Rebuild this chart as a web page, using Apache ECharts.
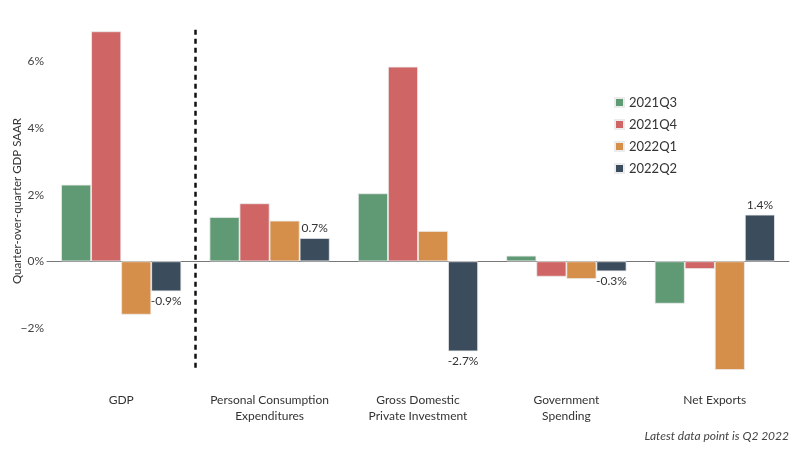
<!DOCTYPE html>
<html><head><meta charset="utf-8">
<script src="https://cdn.jsdelivr.net/npm/echarts@6/dist/echarts.min.js"></script>
<style>html,body{margin:0;padding:0;background:#fff}#c{width:800px;height:457px}</style>
</head><body><div id="c"></div>
<script>
const categories = ['GDP', 'Personal Consumption\nExpenditures', 'Gross Domestic\nPrivate Investment', 'Government\nSpending', 'Net Exports'];
const q2021Q3 = [2.3, 1.33, 2.04, 0.17, -1.27];
const q2021Q4 = [6.9, 1.74, 5.84, -0.46, -0.23];
const q2022Q1 = [-1.6, 1.22, 0.91, -0.53, -3.26];
const q2022Q2 = [-0.9, 0.7, -2.7, -0.3, 1.4];
const seriesNames = ['2021Q3', '2021Q4', '2022Q1', '2022Q2'];
const colors = ['#5f9a74', '#d06565', '#d68f4a', '#3b4c5d'];
const yTicks = [-2, 0, 2, 4, 6];
const footnote = 'Latest data point is Q2 2022';

const FONT = 'Lato';
const chart = echarts.init(document.getElementById('c'));
const all = [q2021Q3, q2021Q4, q2022Q1, q2022Q2];
const series = all.map((arr, i) => ({
  name: seriesNames[i],
  type: 'bar',
  barGap: '0%',
  barCategoryGap: '19%',
  itemStyle: { color: colors[i], borderColor: '#ececec', borderWidth: 0.8 },
  data: arr.map(v => i === 3 ? {
    value: v,
    label: {
      show: true,
      position: v >= 0 ? 'top' : 'bottom',
      formatter: p => p.value.toFixed(1) + '%',
      color: '#333', fontSize: 12, fontFamily: FONT, distance: 4
    }
  } : v)
}));
series.push({
  type: 'line',
  xAxisIndex: 1,
  data: [],
  silent: true,
  markLine: {
    symbol: 'none',
    silent: true,
    label: { show: false },
    lineStyle: { color: '#111', type: [5, 4], width: 2.5 },
    data: [[{ coord: [1, 6.95] }, { coord: [1, -3.3] }]]
  }
});

chart.setOption({
  animation: false,
  textStyle: { fontFamily: FONT },
  grid: { left: 47, right: 11, top: 28, bottom: 79, containLabel: false, outerBoundsMode: 'none' },
  legend: {
    orient: 'vertical', left: 609, top: 91,
    icon: 'rect', itemWidth: 9, itemHeight: 9, itemGap: 9,
    data: seriesNames,
    textStyle: { color: '#333', fontSize: 13, fontFamily: FONT }
  },
  xAxis: [{
    type: 'category',
    data: categories,
    axisLine: { onZero: true, lineStyle: { color: '#777', width: 1 } },
    axisTick: { show: false },
    axisLabel: { color: '#333', fontSize: 12, fontFamily: FONT, margin: 14, lineHeight: 16, interval: 0 }
  }, {
    type: 'value', min: 0, max: 5, show: false
  }],
  yAxis: {
    type: 'value',
    min: -3.5, max: 7, interval: 0.5,
    name: 'Quarter-over-quarter GDP SAAR',
    nameLocation: 'middle', nameGap: 24, nameRotate: 90, nameMoveOverlap: false,
    nameTextStyle: { color: '#333', fontSize: 11.5, fontFamily: FONT, padding: [0, 0, 0, 4] },
    axisLine: { show: false },
    axisTick: { show: false },
    splitLine: { show: false },
    axisLabel: {
      color: '#444', fontSize: 12, fontFamily: FONT, margin: 3,
      formatter: v => yTicks.includes(v) ? (v < 0 ? '\u2212' + Math.abs(v) : v) + '%' : ''
    }
  },
  graphic: [{
    type: 'text', right: 11, top: 430,
    style: { text: footnote, fill: '#444', font: 'italic 12px ' + FONT }
  }],
  series: series
});
</script></body></html>
